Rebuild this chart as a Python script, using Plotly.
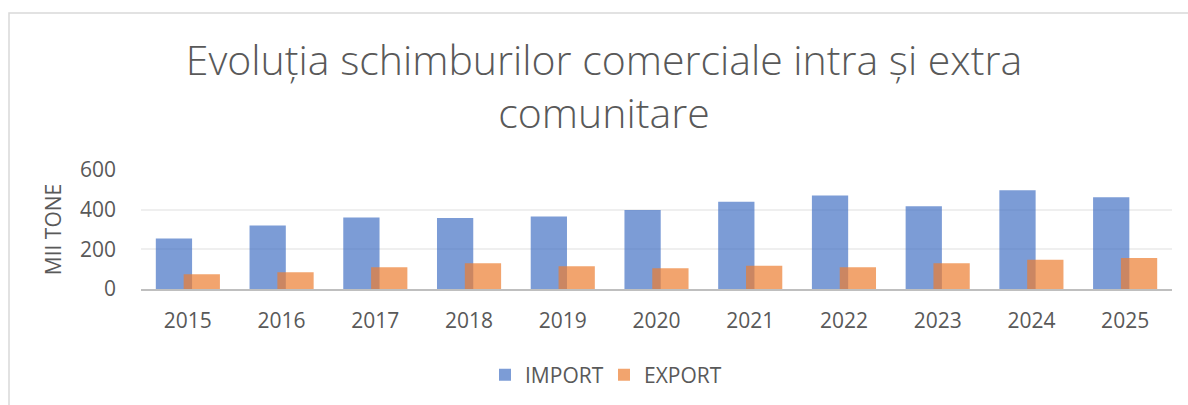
import plotly.graph_objects as go

years = ["2015", "2016", "2017", "2018", "2019", "2020", "2021", "2022", "2023", "2024", "2025"]
import_vals = [255, 320, 360, 358, 365, 398, 440, 472, 417, 498, 462]
export_vals = [75, 85, 110, 130, 115, 105, 117, 110, 130, 148, 156]

title_text = "Evoluția schimburilor comerciale intra și extra<br>comunitare"
y_title = "MII TONE"
y_ticks = [0, 200, 400, 600]

FONT = "Open Sans"
TXT = "#595959"

fig = go.Figure()
fig.add_trace(go.Bar(
    x=years, y=import_vals, name="IMPORT",
    marker=dict(color="rgba(68,114,196,0.7)", line=dict(width=0)),
    offset=-0.342, width=0.387,
))
fig.add_trace(go.Bar(
    x=years, y=export_vals, name="EXPORT",
    marker=dict(color="rgba(237,125,49,0.7)", line=dict(width=0)),
    offset=-0.045, width=0.387,
))

W, H = 1188, 405
L, R, T, B = 141, 16, 170, 116
pw = W - L - R
ph = H - T - B

def px_x(px):
    return (px - L) / pw

def px_y(py):
    return (H - B - py) / ph

fig.update_layout(
    width=W, height=H,
    margin=dict(l=L, r=R, t=T, b=B),
    barmode="overlay",
    paper_bgcolor="white", plot_bgcolor="white",
    font=dict(family=FONT, color=TXT, size=21),
    title=dict(
        text=title_text,
        font=dict(family=FONT, size=41, color=TXT, weight=300),
        x=604 / W, xanchor="center", xref="container",
        y=1 - 75 / H, yanchor="middle", yref="container",
    ),
    xaxis=dict(
        type="category",
        showline=True, linecolor="#BFBFBF", linewidth=2,
        showgrid=False, ticks="",
        tickfont=dict(family=FONT, size=21, color=TXT),
        ticklabelstandoff=12,
    ),
    yaxis=dict(
        range=[0, 600], tickvals=y_ticks,
        showgrid=True, gridcolor="#EFEFEF", gridwidth=1.5,
        zeroline=False, showline=False, ticks="",
        tickfont=dict(family=FONT, size=21, color=TXT),
        ticklabelstandoff=24,
        title=dict(text=y_title, font=dict(family=FONT, size=21, color=TXT), standoff=12),
    ),
    legend=dict(
        orientation="h",
        xref="container", yref="container",
        x=485 / W, xanchor="left",
        y=1 - 375 / H, yanchor="middle",
        font=dict(family=FONT, size=21, color=TXT),
        entrywidth=74, entrywidthmode="pixels",
        itemclick=False,
    ),
    showlegend=True,
)

fig.add_shape(
    type="rect", xref="paper", yref="paper",
    x0=px_x(9), x1=px_x(1205), y0=px_y(13), y1=px_y(420),
    line=dict(color="#D9D9D9", width=1.5), fillcolor="rgba(0,0,0,0)",
    layer="below",
)

fig.write_html("out.html", config={"displayModeBar": False},
               post_script="document.body.style.margin='0';")
